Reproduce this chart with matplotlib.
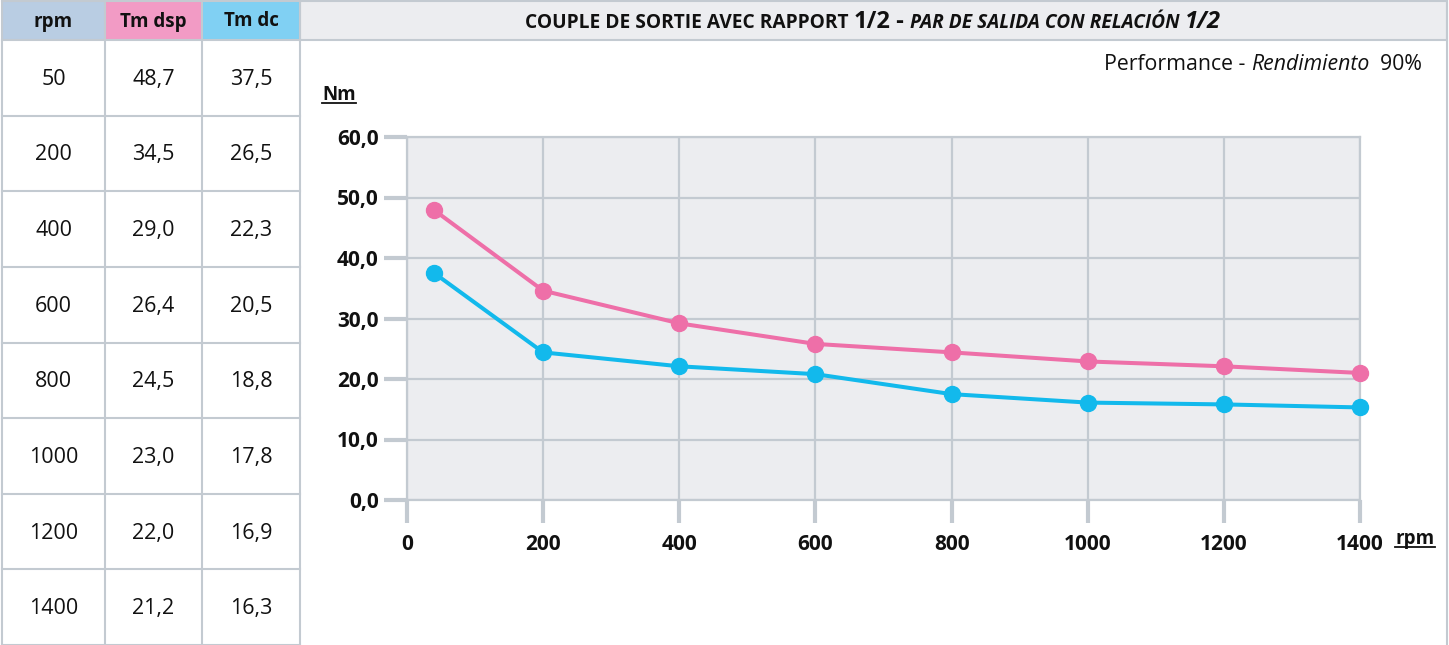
import numpy as np
import matplotlib
matplotlib.use("Agg")
import matplotlib.pyplot as plt
from matplotlib.patches import Rectangle
from matplotlib.lines import Line2D
from matplotlib.ticker import FuncFormatter

plt.rcParams['font.family'] = ['Open Sans', 'DejaVu Sans']

# table on the left
table_headers = ["rpm", "Tm dsp", "Tm dc"]
rpm_table = [50, 200, 400, 600, 800, 1000, 1200, 1400]
tm_dsp_table = [48.7, 34.5, 29.0, 26.4, 24.5, 23.0, 22.0, 21.2]
tm_dc_table = [37.5, 26.5, 22.3, 20.5, 18.8, 17.8, 16.9, 16.3]

# curve points as drawn in the chart
rpm_plot = [40, 200, 400, 600, 800, 1000, 1200, 1400]
tm_dsp_plot = [47.9, 34.6, 29.2, 25.8, 24.4, 22.9, 22.1, 21.0]
tm_dc_plot = [37.5, 24.4, 22.1, 20.8, 17.5, 16.1, 15.8, 15.3]

x_ticks = [0, 200, 400, 600, 800, 1000, 1200, 1400]
y_ticks = [0, 10, 20, 30, 40, 50, 60]

W, H = 1449, 645
PINK = '#EE6FA8'
BLUE = '#12B9EC'
GRID = '#C3CAD1'
PANEL = '#ECEDF0'
TXT = '#111111'
header_colors = ['#B9CDE3', '#F29BC5', '#80D0F3']


def comma(v):
    return "{:.1f}".format(v).replace('.', ',')


fig = plt.figure(figsize=(W / 100, H / 100), dpi=100)
bg = fig.add_axes([0, 0, 1, 1], zorder=0)
bg.set_xlim(0, W)
bg.set_ylim(H, 0)
bg.axis('off')
renderer = fig.canvas.get_renderer()


def chain(pieces, x, y, ha='left'):
    # lay text pieces side by side, pixel coords of bg
    texts = [bg.text(0, y, s, va='baseline', ha='left', color=TXT, **kw) for s, kw in pieces]
    widths = [t.get_window_extent(renderer).width for t in texts]
    total = sum(widths)
    start = {'left': x, 'center': x - total / 2, 'right': x - total}[ha]
    for t, w in zip(texts, widths):
        t.set_x(start)
        start += w
    return texts


def underlined(s, x, y, size):
    t = bg.text(x, y, s, va='center', ha='center', fontsize=size, fontweight='bold', color=TXT)
    ext = t.get_window_extent(renderer)
    bg.add_line(Line2D([x - ext.width / 2, x + ext.width / 2], [y + ext.height * 0.40] * 2,
                       color=TXT, lw=1.3))


# --- table ---
col_edges = [2, 105, 202, 300]
row_edges = np.concatenate([[1], np.linspace(40, H, len(rpm_table) + 1)])
for j, name in enumerate(table_headers):
    bg.add_patch(Rectangle((col_edges[j], row_edges[0]), col_edges[j + 1] - col_edges[j],
                           row_edges[1] - row_edges[0], facecolor=header_colors[j], edgecolor='none'))
    bg.text((col_edges[j] + col_edges[j + 1]) / 2, (row_edges[0] + row_edges[1]) / 2 + 1, name,
            ha='center', va='center', fontsize=13.5, fontweight='bold', color=TXT)
for i in range(len(rpm_table)):
    cells = [str(rpm_table[i]), comma(tm_dsp_table[i]), comma(tm_dc_table[i])]
    yc = (row_edges[i + 1] + row_edges[i + 2]) / 2 + 1.5
    for j, s in enumerate(cells):
        bg.text((col_edges[j] + col_edges[j + 1]) / 2, yc, s, ha='center', va='center',
                fontsize=15.5, color=TXT)
for y in row_edges:
    bg.add_line(Line2D([col_edges[0], col_edges[-1]], [y, y], color=GRID, lw=1.5))
for x in col_edges:
    bg.add_line(Line2D([x, x], [0, H], color=GRID, lw=1.5))

# --- right panel frame and title bar ---
bg.add_patch(Rectangle((300, 1), 1147, 39, facecolor=PANEL, edgecolor=GRID, lw=1.5))
bg.add_line(Line2D([1447, 1447], [0, H], color=GRID, lw=1.5))
small = dict(fontsize=13.8, fontweight='bold')
big = dict(fontsize=17, fontweight='bold')
chain([("COUPLE DE SORTIE AVEC RAPPORT ", small), ("1/2", big), (" - ", big),
       ("PAR DE SALIDA CON RELACIÓN ", dict(small, style='italic')), ("1/2", dict(big, style='italic'))],
      873, 28, ha='center')

chain([("Performance - ", dict(fontsize=15.3)), ("Rendimiento", dict(fontsize=15.3, style='italic')),
       ("  90%", dict(fontsize=15.3))], 1422, 70, ha='right')

underlined("Nm", 339, 95, 13.5)
underlined("rpm", 1415, 539, 13.5)

# --- chart ---
ax = fig.add_axes([407 / W, 1 - 500 / H, 953 / W, 363 / H], zorder=2)
ax.set_facecolor(PANEL)
ax.plot(rpm_plot, tm_dsp_plot, color=PINK, lw=2.9, marker='o', markersize=11.5, zorder=3)
ax.plot(rpm_plot, tm_dc_plot, color=BLUE, lw=2.9, marker='o', markersize=11.5, zorder=3)
ax.set_xlim(0, 1400)
ax.set_ylim(0, 60)
ax.set_xticks(x_ticks)
ax.set_yticks(y_ticks)
ax.yaxis.set_major_formatter(FuncFormatter(lambda v, p: comma(v)))
ax.grid(True, color=GRID, lw=1.6)
ax.set_axisbelow(True)
for sp in ax.spines.values():
    sp.set_color(GRID)
    sp.set_linewidth(1.6)
ax.tick_params(axis='both', length=16.5, width=3, color=GRID, labelsize=15, labelcolor=TXT)
ax.tick_params(axis='x', pad=8)
ax.tick_params(axis='y', pad=4)
plt.setp(ax.get_xticklabels() + ax.get_yticklabels(), fontweight='bold')
for ln in ax.get_lines():
    ln.set_clip_on(False)

fig.savefig("out.png", dpi=100)
